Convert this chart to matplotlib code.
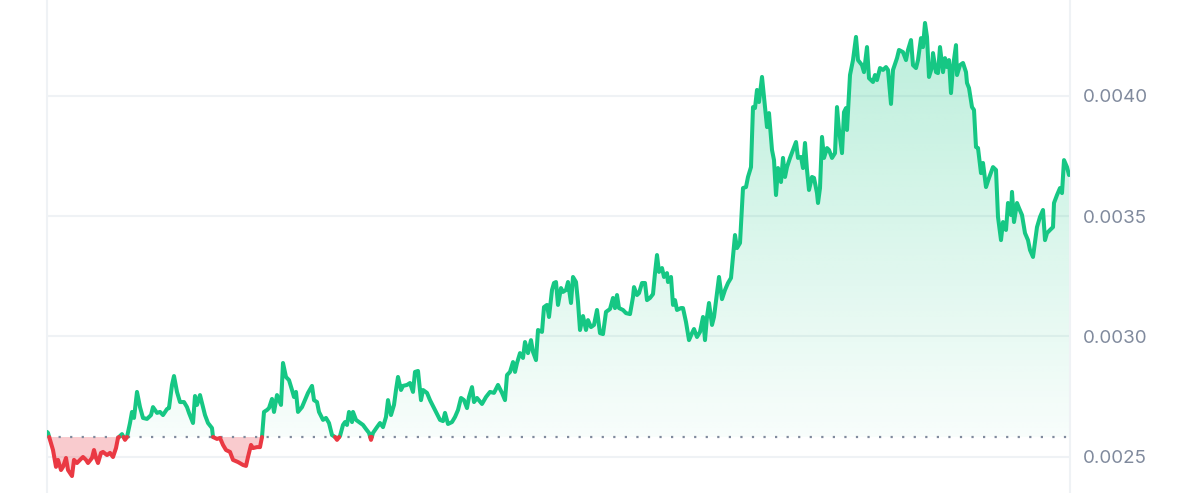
import numpy as np
import matplotlib
matplotlib.use("Agg")
import matplotlib.pyplot as plt
from matplotlib.colors import to_rgb
from matplotlib.path import Path

# ---- data (time index, price in units of 1e-3) ----
t = [0, 1, 3, 6, 9, 11, 14, 16, 19, 21, 25, 27, 30, 33, 36, 39, 41, 45, 47, 49, 51, 54, 56, 60, 63, 66, 69, 71,
     75, 78, 80, 83, 85, 87, 90, 93, 96, 100, 104, 106, 110, 113, 116, 120, 122, 125, 127, 130, 133, 137, 140,
     142, 146, 148, 150, 153, 156, 158, 161, 165, 166, 170, 173, 176, 179, 183, 186, 191, 196, 199, 201, 204,
     206, 210, 213, 215, 217, 220, 222, 225, 227, 230, 234, 236, 239, 242, 245, 247, 249, 251, 255, 258, 261,
     265, 267, 270, 272, 276, 279, 282, 285, 288, 290, 293, 296, 298, 300, 302, 305, 306, 309, 312, 316, 319,
     322, 324, 326, 330, 333, 336, 339, 341, 344, 347, 349, 351, 354, 356, 360, 363, 366, 368, 371, 374, 376,
     380, 383, 388, 393, 396, 398, 401, 405, 408, 411, 414, 417, 420, 422, 425, 427, 430, 435, 439, 443, 447,
     451, 455, 458, 460, 463, 466, 468, 470, 473, 476, 478, 481, 484, 486, 489, 491, 495, 497, 500, 502, 505,
     507, 509, 511, 514, 516, 519, 521, 524, 526, 529, 531, 533, 536, 539, 541, 544, 547, 550, 553, 556, 559,
     563, 566, 568, 570, 572, 576, 579, 583, 586, 587, 590, 592, 595, 598, 600, 603, 606, 608, 610, 612, 615,
     617, 620, 621, 624, 626, 628, 630, 634, 636, 639, 642, 645, 647, 650, 653, 656, 658, 660, 662, 665, 667,
     670, 672, 675, 678, 681, 684, 686, 688, 690, 693, 696, 699, 701, 704, 706, 708, 710, 712, 715, 717, 720,
     722, 725, 727, 729, 731, 734, 736, 738, 740, 743, 746, 749, 751, 754, 756, 758, 760, 762, 765, 767, 770,
     771, 773, 775, 777, 780, 782, 785, 788, 790, 792, 795, 797, 799, 800, 803, 806, 809, 811, 815, 817, 820,
     822, 826, 828, 830, 833, 836, 839, 841, 844, 846, 850, 852, 856, 859, 861, 864, 866, 869, 871, 874, 876,
     878, 880, 882, 885, 886, 889, 891, 893, 896, 898, 900, 902, 904, 906, 909, 910, 913, 916, 919, 920, 922,
     925, 927, 929, 931, 934, 936, 939, 942, 946, 949, 951, 954, 956, 959, 961, 964, 965, 967, 970, 972, 975,
     978, 981, 983, 986, 988, 990, 993, 996, 998, 1000, 1003, 1006, 1007, 1010, 1013, 1015, 1017, 1020, 1022]

price_k = [2.604, 2.600, 2.571, 2.529, 2.459, 2.488, 2.446, 2.459, 2.496, 2.446, 2.421, 2.488, 2.475, 2.488,
           2.500, 2.488, 2.475, 2.496, 2.529, 2.496, 2.475, 2.517, 2.521, 2.508, 2.517, 2.500, 2.537, 2.579,
           2.595, 2.571, 2.583, 2.641, 2.687, 2.662, 2.770, 2.707, 2.662, 2.658, 2.674, 2.707, 2.683, 2.687,
           2.674, 2.699, 2.703, 2.799, 2.836, 2.770, 2.728, 2.728, 2.707, 2.683, 2.641, 2.753, 2.716, 2.757,
           2.707, 2.674, 2.641, 2.620, 2.583, 2.575, 2.579, 2.550, 2.529, 2.521, 2.488, 2.479, 2.467, 2.463,
           2.500, 2.550, 2.537, 2.541, 2.541, 2.583, 2.687, 2.695, 2.703, 2.741, 2.687, 2.757, 2.716, 2.890,
           2.832, 2.819, 2.778, 2.749, 2.770, 2.687, 2.707, 2.736, 2.766, 2.795, 2.736, 2.728, 2.687, 2.654,
           2.662, 2.641, 2.591, 2.583, 2.571, 2.587, 2.633, 2.645, 2.633, 2.687, 2.645, 2.687, 2.654, 2.645,
           2.633, 2.616, 2.600, 2.571, 2.600, 2.624, 2.641, 2.624, 2.666, 2.736, 2.674, 2.716, 2.778, 2.832,
           2.778, 2.795, 2.799, 2.807, 2.770, 2.853, 2.857, 2.736, 2.778, 2.766, 2.736, 2.695, 2.654, 2.649,
           2.683, 2.637, 2.645, 2.666, 2.695, 2.745, 2.736, 2.703, 2.749, 2.790, 2.728, 2.745, 2.720, 2.749,
           2.770, 2.766, 2.799, 2.766, 2.736, 2.840, 2.853, 2.894, 2.853, 2.890, 2.931, 2.911, 2.977, 2.931,
           2.985, 2.936, 2.902, 3.027, 3.019, 3.122, 3.131, 3.081, 3.193, 3.222, 3.226, 3.131, 3.201, 3.185,
           3.193, 3.226, 3.139, 3.247, 3.226, 3.143, 3.027, 3.085, 3.027, 3.068, 3.039, 3.048, 3.110, 3.014,
           3.010, 3.102, 3.114, 3.160, 3.118, 3.172, 3.118, 3.110, 3.097, 3.093, 3.164, 3.205, 3.172, 3.180,
           3.222, 3.222, 3.151, 3.160, 3.176, 3.263, 3.338, 3.268, 3.284, 3.247, 3.263, 3.226, 3.247, 3.131,
           3.151, 3.110, 3.118, 3.118, 3.060, 2.985, 3.014, 3.031, 2.998, 3.019, 3.081, 2.985, 3.081, 3.139,
           3.048, 3.081, 3.180, 3.247, 3.155, 3.193, 3.222, 3.243, 3.330, 3.421, 3.367, 3.388, 3.616, 3.620,
           3.662, 3.703, 3.952, 3.948, 4.023, 3.973, 4.077, 3.994, 3.869, 3.927, 3.774, 3.732, 3.587, 3.699,
           3.641, 3.741, 3.662, 3.703, 3.741, 3.774, 3.807, 3.741, 3.745, 3.699, 3.803, 3.691, 3.608, 3.662,
           3.658, 3.595, 3.554, 3.616, 3.828, 3.741, 3.782, 3.774, 3.741, 3.761, 3.952, 3.857, 3.761, 3.931,
           3.948, 3.857, 4.085, 4.147, 4.243, 4.147, 4.126, 4.097, 4.201, 4.072, 4.056, 4.085, 4.064, 4.114,
           4.106, 4.118, 4.106, 3.965, 4.106, 4.155, 4.189, 4.180, 4.147, 4.189, 4.230, 4.126, 4.114, 4.147,
           4.238, 4.201, 4.301, 4.243, 4.077, 4.118, 4.176, 4.097, 4.093, 4.201, 4.097, 4.155, 4.118, 4.147,
           4.010, 4.118, 4.209, 4.085, 4.126, 4.135, 4.097, 4.052, 4.031, 3.952, 3.940, 3.786, 3.782, 3.678,
           3.720, 3.620, 3.658, 3.703, 3.691, 3.496, 3.400, 3.475, 3.442, 3.554, 3.504, 3.600, 3.475, 3.554,
           3.533, 3.504, 3.429, 3.400, 3.359, 3.330, 3.392, 3.454, 3.496, 3.525, 3.400, 3.429, 3.442, 3.454,
           3.554, 3.587, 3.616, 3.595, 3.732, 3.703, 3.670]

base_k = 2.583
y_ticks = [0.0025, 0.0030, 0.0035, 0.0040]
y_tick_labels = ["0.0025", "0.0030", "0.0035", "0.0040"]

GREEN = "#16c784"
RED = "#ea3943"
GRID = "#eff2f5"
LABEL = "#808a9d"

x = np.asarray(t, dtype=float)
y = np.asarray(price_k, dtype=float) * 1e-3
base = base_k * 1e-3

# insert crossing points so the colour switch happens exactly at the baseline
xs, ys = [x[0]], [y[0]]
for i in range(1, len(x)):
    y0, y1 = y[i - 1], y[i]
    if (y0 - base) * (y1 - base) < 0:
        f = (base - y0) / (y1 - y0)
        xs.append(x[i - 1] + f * (x[i] - x[i - 1]))
        ys.append(base)
    xs.append(x[i])
    ys.append(y[i])
xs = np.array(xs)
ys = np.array(ys)

fig = plt.figure(figsize=(12, 4.93), dpi=100)
ax = fig.add_axes([47 / 1200, 0, 1023 / 1200, 1])
ylo = 2.3506e-3
yhi = 4.3963e-3

# gridlines
for v in y_ticks:
    ax.axhline(v, color=GRID, lw=1.5, zorder=0)

# green gradient fill
poly_g = ax.fill_between(xs, ys, base, where=ys >= base, interpolate=True,
                         color="none", lw=0)
gr = np.ones((256, 2, 4))
rgb = to_rgb(GREEN)
gr[:, :, 0], gr[:, :, 1], gr[:, :, 2] = rgb
gr[:, :, 3] = np.linspace(0.03, 0.30, 256)[:, None]
im = ax.imshow(gr, extent=[0, 1023, base, 4.35e-3], origin="lower",
               aspect="auto", zorder=1, interpolation="bilinear")
clip = Path.make_compound_path(*poly_g.get_paths())
im.set_clip_path(clip, transform=ax.transData)

# red fill
ax.fill_between(xs, ys, base, where=ys <= base, interpolate=True,
                color=RED, alpha=0.26, lw=0, zorder=1)

# baseline
ax.axhline(base, color=LABEL, lw=1.6, linestyle=(0, (1, 4.2)), zorder=2)

# line
g = np.where(ys >= base, ys, np.nan)
r = np.where(ys <= base, ys, np.nan)
ax.plot(xs, g, color=GREEN, lw=2.9, solid_joinstyle="round", solid_capstyle="round", zorder=3)
ax.plot(xs, r, color=RED, lw=2.9, solid_joinstyle="round", solid_capstyle="round", zorder=3)

ax.set_ylim(ylo, yhi)
ax.set_xlim(0, 1023)
ax.set_xticks([])
ax.yaxis.tick_right()
ax.set_yticks(y_ticks)
ax.set_yticklabels(y_tick_labels, family=["Inter", "DejaVu Sans"], fontsize=13.5, color=LABEL)
ax.tick_params(axis="y", length=0, pad=9.5)
for s in ["top", "bottom"]:
    ax.spines[s].set_visible(False)
for s in ["left", "right"]:
    ax.spines[s].set_color(GRID)
    ax.spines[s].set_linewidth(1.5)

fig.savefig("out.png", dpi=100)
